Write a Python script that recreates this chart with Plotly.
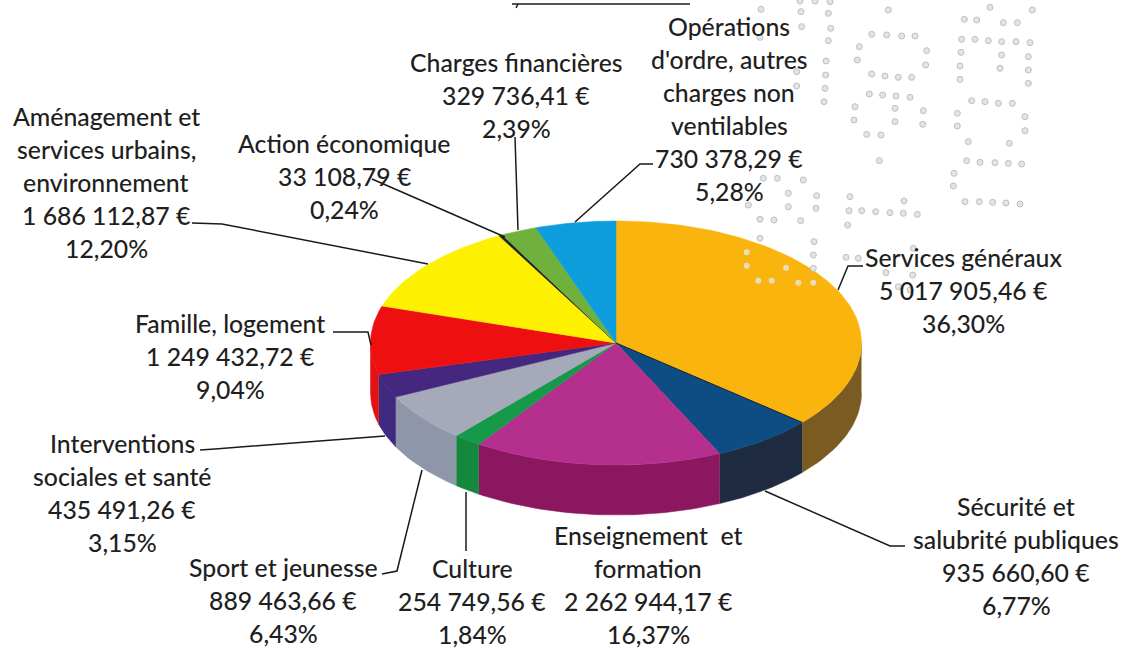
import numpy as np
import plotly.graph_objects as go

categories = ["Services généraux", "Sécurité et salubrité publiques", "Enseignement et formation", "Culture",
              "Sport et jeunesse", "Interventions sociales et santé", "Famille, logement",
              "Aménagement et services urbains, environnement", "Action économique", "Charges financières",
              "Opérations d'ordre, autres charges non ventilables"]
amounts = [5017905.46, 935660.60, 2262944.17, 254749.56, 889463.66, 435491.26, 1249432.72,
           1686112.87, 33108.79, 329736.41, 730378.29]
percents = ["36,30%", "6,77%", "16,37%", "1,84%", "6,43%", "3,15%", "9,04%", "12,20%", "0,24%", "2,39%", "5,28%"]
name_lines = [["Services généraux"], ["Sécurité et", "salubrité publiques"], ["Enseignement  et", "formation"], ["Culture"],
              ["Sport et jeunesse"], ["Interventions", "sociales et santé"], ["Famille, logement"],
              ["Aménagement et", "services urbains,", "environnement"], ["Action économique"], ["Charges financières"],
              ["Opérations", "d'ordre, autres", "charges non", "ventilables"]]
top_colors = ["#f9b50e", "#0e4c84", "#b5308e", "#169a4a", "#a5a9b9", "#45277f", "#ee1010", "#fdf000", "#222222", "#6fb13c", "#0d9ddc"]
side_colors = ["#7a5c22", "#1f2b40", "#8b1760", "#14883c", "#8f96aa", "#3f2a80", "#e01214", "#8a8400", "#111111", "#4a7a28", "#085a88"]

# layout of the pie, label anchors (centre x, first line y) and leader lines, in page pixels
CX, CY, RX, RY, DEPTH = 616, 343, 245.5, 122, 50
label_x = [963, 1016, 648, 472, 283, 122, 230, 106, 344, 516, 729]
label_y = [257, 506, 535, 568, 567, 443, 323, 116, 143, 62, 26]
LINE_STEP = 33.0
leaders = [
    [(863, 266), (848, 266), (838, 290)],
    [(765, 491), (890, 546), (905, 546)],
    [],
    [(466, 492), (466, 551)],
    [(382, 574), (397, 571), (422, 470)],
    [(200, 450), (215, 449), (385, 436)],
    [(333, 332), (368, 332), (371, 345)],
    [(192, 223), (222, 224), (428, 264)],
    [(372, 179), (505, 237)],
    [(515, 137), (518, 230)],
    [(653, 164), (640, 164), (575, 222)],
]
underline = [(512, 4), (690, 4)]
underline_tail = [(518, 4), (516, 8)]
perf_x = [183,303,385,305,392,180,385,378,290,377,290,375,372,300,345,390,
          565,515,560,605,645,478,680,472,677,515,555,595,635,508,548,588,630,465,585,670,462,585,668,500,543,538,
          870,997,793,830,910,952,785,825,865,905,948,990,783,905,985,780,900,985,780,985,815,855,895,937,772,975,772,975,805,928,800,840,885,925,965,762,760,795,838,878,918,960,
          190,232,310,265,350,145,265,348,180,222,302,180,342,340,340,450,612,447,485,527,570,610,652,443,640,438,475,558,638,595,630]
perf_y = [28,35,40,80,85,112,122,183,215,225,258,265,305,3,3,5,
          30,103,105,108,108,140,152,180,195,222,228,232,232,282,285,288,292,320,325,332,360,365,373,403,405,482,
          22,30,58,60,68,68,118,118,122,125,125,128,157,165,170,198,205,210,238,250,302,305,310,310,340,350,378,392,425,430,482,487,488,490,492,520,558,605,605,607,609,612,
          535,535,540,580,587,615,620,625,658,660,662,715,725,765,805,590,603,632,632,635,638,640,643,675,745,772,775,818,825,860,870]
perf_on_x = [140,140,258,175,215,295,340]
perf_on_y = [757,797,803,842,842,848,848]


def fmt_eur(v):
    whole, dec = f"{v:,.2f}".split(".")
    return whole.replace(",", " ") + "," + dec + " €"


def arc(t0, t1, n=120):
    return np.linspace(t0, t1, max(2, int(n * (t1 - t0) / np.pi) + 2))


fracs = np.array(amounts) / sum(amounts)
edges = np.concatenate([[0], np.cumsum(fracs)]) * 2 * np.pi

fig = go.Figure()

# sides: only the front half of the pie shows them
for i in range(len(amounts)):
    t0, t1 = max(edges[i], np.pi / 2), min(edges[i + 1], 3 * np.pi / 2)
    if t1 <= t0:
        continue
    t = arc(t0, t1)
    x = CX + RX * np.sin(t)
    y = CY - RY * np.cos(t)
    fig.add_trace(go.Scatter(x=np.r_[x, x[::-1]], y=np.r_[y, y[::-1] + DEPTH], mode="lines", fill="toself",
                             fillcolor=side_colors[i], line=dict(width=0.5, color=side_colors[i]),
                             hoverinfo="skip", showlegend=False))

# tops
for i in range(len(amounts)):
    t = arc(edges[i], edges[i + 1])
    x = np.r_[CX, CX + RX * np.sin(t), CX]
    y = np.r_[CY, CY - RY * np.cos(t), CY]
    fig.add_trace(go.Scatter(x=x, y=y, mode="lines", fill="toself", fillcolor=top_colors[i],
                             line=dict(width=0.5, color=top_colors[i]), name=categories[i],
                             hoverinfo="name", showlegend=False))

# thin shadow along the edge of the largest slice
fig.add_trace(go.Scatter(x=[CX, CX + RX * np.sin(edges[1])], y=[CY, CY - RY * np.cos(edges[1])], mode="lines",
                         line=dict(color="#1c2430", width=1), hoverinfo="skip", showlegend=False))

# leader lines
for pts in leaders + [underline, underline_tail]:
    if pts:
        fig.add_trace(go.Scatter(x=[p[0] for p in pts], y=[p[1] for p in pts], mode="lines",
                                 line=dict(color="#1a1a1a", width=1.5), hoverinfo="skip", showlegend=False))

# perforation marks from the scan (zoom-crop coordinates)
fig.add_trace(go.Scatter(x=[700 + v / 3 for v in perf_x], y=[v / 3 for v in perf_y], mode="markers",
                         marker=dict(size=6, color="#e2e5e3", line=dict(width=1, color="#bcc1bf")),
                         hoverinfo="skip", showlegend=False))
fig.add_trace(go.Scatter(x=[700 + v / 3 for v in perf_on_x], y=[v / 3 for v in perf_on_y], mode="markers",
                         marker=dict(size=6, color="#e9dcb8"), hoverinfo="skip", showlegend=False))

# labels
annotations = []
for i in range(len(amounts)):
    lines = name_lines[i] + [fmt_eur(amounts[i]), percents[i]]
    for k, txt in enumerate(lines):
        annotations.append(dict(x=label_x[i], y=label_y[i] + k * LINE_STEP, text=txt, showarrow=False,
                                xanchor="center", yanchor="middle", xref="x", yref="y",
                                font=dict(family="Lato, Carlito, 'Noto Sans', sans-serif", size=24.8,
                                          weight=500, color="#1f1f1f")))

fig.update_layout(width=1133, height=648, margin=dict(l=0, r=0, t=0, b=0), paper_bgcolor="white", plot_bgcolor="white",
                  xaxis=dict(range=[0, 1133], visible=False, fixedrange=True),
                  yaxis=dict(range=[648, 0], visible=False, fixedrange=True),
                  annotations=annotations, showlegend=False)
fig.write_html("out.html", config=dict(displayModeBar=False),
               post_script="document.body.style.margin='0';")
